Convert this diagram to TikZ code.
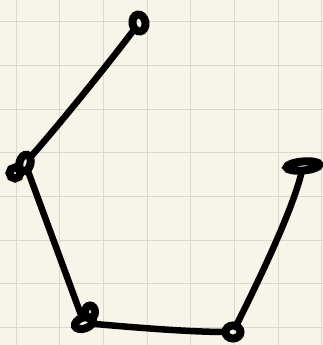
\documentclass[tikz,border=0pt]{standalone}
\usepackage{tikz}
\usetikzlibrary{positioning,shapes.geometric}
\definecolor{skPaper}{RGB}{247,245,233}
\definecolor{skGrid}{RGB}{219,217,203}
\definecolor{skInk}{RGB}{0,0,0}

\begin{document}
\begin{tikzpicture}[x=1pt,y=-1pt,
  stroke/.style={skInk, line width=6.5pt, line cap=round, line join=round},
  knot/.style={ellipse, draw=skInk, line width=8pt, inner sep=0pt, outer sep=0pt},
  curl/.style={skInk, line width=8pt}]
  % Paper and grid
  \fill[skPaper] (0,0) rectangle (323,345);
  \useasboundingbox (0,0) rectangle (323,345);
  \foreach \i in {0,...,7} {
    \draw[skGrid, line width=0.9pt] ({16+43.7*\i},0) -- ({16+43.7*\i},345);
    \draw[skGrid, line width=0.9pt] (0,{21.7+43.7*\i}) -- (323,{21.7+43.7*\i});
  }

  % Knots at the corners
  \node[knot, minimum width=13pt, minimum height=17pt, rotate=10] (top) at (139,23) {};
  \node[knot, minimum width=11pt, minimum height=17pt, rotate=-15] (left) at (25,163) {};
  \node[knot, minimum width=19pt, minimum height=11pt, rotate=20] (lowleft) at (84,323) {};
  \node[knot, minimum width=15pt, minimum height=13pt] (lowright) at (233,332) {};
  \node[knot, minimum width=33pt, minimum height=9pt, rotate=5] (right) at (303,166) {};
  % second turns of the curls
  \draw[curl] (15,173) ellipse [x radius=5.5pt, y radius=5.5pt];
  \draw[curl] (90,312) ellipse [x radius=5pt, y radius=6.5pt];

  % Strokes
  \draw[stroke] (top) .. controls +(-30,40) and +(29,-32) .. (left);
  \draw[stroke] (left) -- (lowleft);
  \draw[stroke] (lowleft) .. controls +(45,4) and +(-45,0) .. (lowright);
  \draw[stroke] (lowright) .. controls +(20,-40) and +(-10,45) .. (right);
\end{tikzpicture}
\end{document}
